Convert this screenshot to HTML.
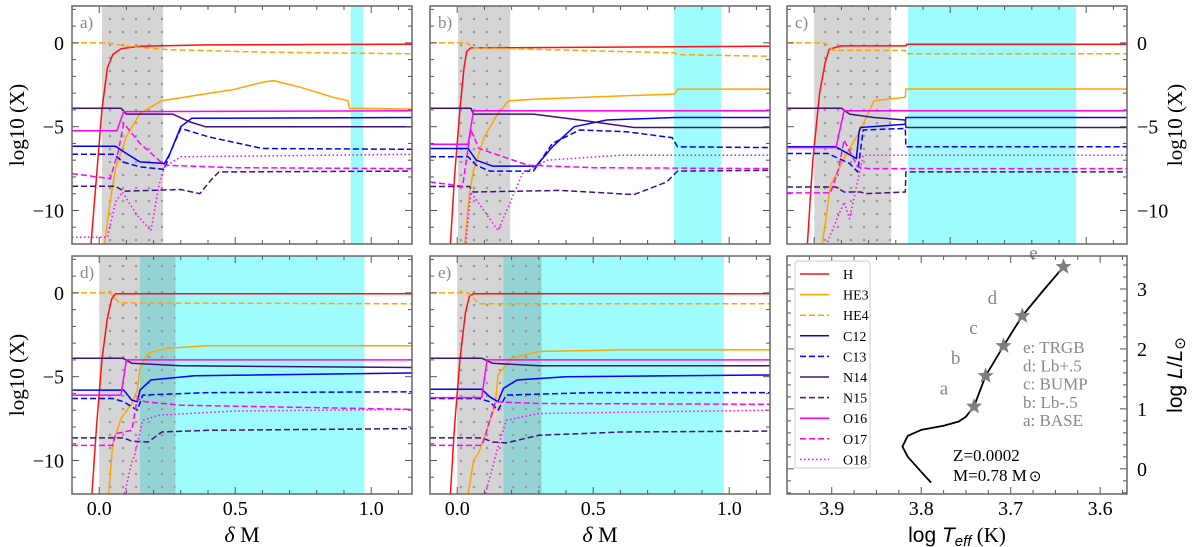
<!DOCTYPE html>
<html><head><meta charset="utf-8"><style>
body{margin:0;background:#fff;}
svg{display:block;font-family:"Liberation Serif",serif;}
</style></head><body>
<svg id="fig" width="1200" height="547" viewBox="0 0 1200 547" xmlns="http://www.w3.org/2000/svg">
<defs>
<pattern id="dots" width="13" height="13" patternUnits="userSpaceOnUse"><circle cx="6" cy="6" r="1.3" fill="#9a9a9a"/></pattern>
</defs>
</svg>
<script>
// ---------- shaded zones (delta M) ----------
const a_gray=[0.01,0.235], a_cyan=[0.925,0.97];
const b_gray=[0.003,0.195], b_cyan=[0.797,0.97];
const c_gray=[0.0,0.283], c_cyan=[0.345,0.963];
const d_gray=[0.0,0.28], d_cyan=[0.15,0.975];
const e_gray=[0.0,0.31], e_cyan=[0.17,0.98];
// ---------- panel a ----------
const a_H=[[-0.03,-12],[-0.01,-8],[0.01,-4],[0.03,-1.5],[0.05,-0.7],[0.08,-0.35],[0.15,-0.2],[0.4,-0.12],[1.15,-0.08]];
const a_HE3=[[0.02,-12],[0.04,-9.5],[0.06,-7.5],[0.1,-5.6],[0.15,-4.2],[0.23,-3.45],[0.37,-3.1],[0.49,-2.8],[0.6,-2.35],[0.64,-2.25],[0.74,-2.65],[0.86,-3.25],[0.915,-3.45],[0.92,-3.9],[1.15,-3.95]];
const a_HE4=[[-0.1,0],[0.03,0],[0.1,-0.2],[0.25,-0.4],[0.6,-0.55],[1.15,-0.65]];
const a_C12=[[-0.1,-6.17],[0.06,-6.17],[0.1,-6.6],[0.15,-7.1],[0.24,-7.2],[0.26,-6.6],[0.3,-5.0],[0.34,-4.5],[1.15,-4.45]];
const a_C13=[[-0.1,-6.65],[0.055,-6.65],[0.086,-7.1],[0.15,-7.4],[0.24,-7.55],[0.26,-6.6],[0.3,-5.1],[0.4,-5.6],[0.6,-6.3],[1.15,-6.35]];
const a_N14=[[-0.1,-3.9],[0.08,-3.9],[0.1,-4.25],[0.27,-4.25],[0.33,-4.7],[0.39,-5.0],[1.15,-5.0]];
const a_N15=[[-0.1,-8.55],[0.06,-8.55],[0.09,-8.85],[0.3,-8.75],[0.37,-9.0],[0.41,-8.2],[0.44,-7.7],[1.15,-7.65]];
const a_O16=[[-0.1,-5.24],[0.065,-5.24],[0.09,-4.1],[1.15,-4.05]];
const a_O17=[[-0.1,-7.8],[0.04,-8.1],[0.07,-6.5],[0.09,-4.8],[0.15,-6.0],[0.24,-7.3],[0.5,-7.45],[1.15,-7.5]];
const a_O18=[[-0.1,-11.6],[0.03,-11.6],[0.06,-9.5],[0.085,-8.9],[0.14,-10.3],[0.19,-11.2],[0.22,-8.5],[0.24,-7.4],[0.3,-6.8],[1.15,-6.65]];
// ---------- panel b ----------
const b_H=[[-0.025,-12],[-0.01,-8],[0.01,-4],[0.025,-1.5],[0.035,-0.5],[0.05,-0.3],[1.15,-0.2]];
const b_HE3=[[0.028,-12],[0.045,-9],[0.06,-7.6],[0.1,-5.6],[0.15,-4.2],[0.19,-3.45],[0.3,-3.35],[0.8,-3.05],[0.81,-2.76],[1.15,-2.76]];
const b_HE4=[[-0.1,0],[0.035,0],[0.06,-0.3],[0.2,-0.35],[0.8,-0.6],[0.81,-0.7],[1.15,-0.8]];
const b_C12=[[-0.1,-6.3],[0.04,-6.3],[0.07,-7.0],[0.13,-7.35],[0.29,-7.35],[0.35,-6.2],[0.43,-5.0],[0.55,-4.6],[0.8,-4.45],[1.15,-4.45]];
const b_C13=[[-0.1,-6.8],[0.04,-6.8],[0.07,-7.3],[0.12,-7.65],[0.28,-7.65],[0.35,-6.0],[0.45,-5.2],[0.62,-5.3],[0.79,-5.65],[0.81,-6.2],[1.15,-6.25]];
const b_N14=[[-0.1,-3.9],[0.05,-3.9],[0.06,-4.25],[0.28,-4.25],[0.45,-4.6],[0.65,-5.05],[1.15,-5.05]];
const b_N15=[[-0.1,-8.57],[0.045,-8.57],[0.06,-8.9],[0.38,-8.8],[0.65,-9.05],[0.77,-8.3],[0.81,-7.65],[1.15,-7.6]];
const b_O16=[[-0.1,-6.05],[0.04,-6.05],[0.06,-4.05],[1.15,-4.05]];
const b_O17=[[-0.1,-8.3],[0.02,-8.55],[0.05,-5.2],[0.08,-6.3],[0.26,-7.3],[0.5,-7.45],[1.15,-7.5]];
const b_O18=[[-0.1,-12.2],[0.03,-12.2],[0.05,-8.9],[0.15,-11.2],[0.24,-7.8],[0.33,-7.0],[0.6,-6.7],[1.15,-6.7]];
// ---------- panel c ----------
const c_H=[[-0.025,-12],[-0.005,-7],[0.02,-3],[0.04,-1.2],[0.055,-0.38],[0.1,-0.18],[0.337,-0.18],[0.34,-0.08],[1.15,-0.08]];
const c_HE3=[[0.03,-12],[0.06,-8.5],[0.12,-6.6],[0.17,-5.2],[0.22,-3.45],[0.335,-3.25],[0.337,-2.75],[1.15,-2.75]];
const c_HE4=[[-0.1,0],[0.04,0],[0.07,-0.45],[0.335,-0.45],[0.337,-0.65],[1.15,-0.65]];
const c_C12=[[-0.1,-6.2],[0.08,-6.2],[0.155,-6.9],[0.165,-5.3],[0.17,-5.05],[0.335,-4.85],[0.337,-4.45],[1.15,-4.45]];
const c_C13=[[-0.1,-6.6],[0.05,-6.6],[0.13,-7.2],[0.16,-7.7],[0.18,-5.2],[0.335,-5.1],[0.337,-6.2],[1.15,-6.2]];
const c_N14=[[-0.1,-3.9],[0.1,-3.9],[0.13,-4.25],[0.22,-4.45],[0.335,-4.6],[0.337,-5.05],[1.15,-5.05]];
const c_N15=[[-0.1,-8.6],[0.08,-8.6],[0.11,-8.9],[0.17,-8.9],[0.19,-9.0],[0.335,-8.9],[0.337,-7.7],[1.15,-7.7]];
const c_O16=[[-0.1,-6.25],[0.08,-6.25],[0.11,-4.05],[1.15,-4.05]];
const c_O17=[[-0.1,-8.95],[0.06,-8.95],[0.09,-7.5],[0.11,-5.8],[0.16,-7.4],[0.2,-7.5],[1.15,-7.5]];
const c_O18=[[-0.1,-12.3],[0.04,-12.2],[0.11,-9.5],[0.13,-10.5],[0.18,-6.7],[1.15,-6.7]];
// ---------- panel d ----------
const d_H=[[-0.027,-12],[-0.01,-8],[0.01,-4],[0.03,-1.5],[0.046,-0.36],[0.06,-0.05],[1.15,-0.05]];
const d_HE3=[[0.035,-12],[0.05,-9],[0.08,-7.5],[0.12,-6.6],[0.14,-5.8],[0.15,-4.5],[0.18,-3.6],[0.25,-3.3],[0.4,-3.15],[1.15,-3.15]];
const d_HE4=[[-0.1,0],[0.04,0],[0.075,-0.6],[1.15,-0.65]];
const d_C12=[[-0.1,-5.8],[0.09,-5.8],[0.12,-6.4],[0.14,-6.5],[0.15,-5.8],[0.19,-5.2],[0.35,-4.95],[1.15,-4.78]];
const d_C13=[[-0.1,-6.3],[0.05,-6.3],[0.09,-6.5],[0.14,-7.0],[0.16,-6.1],[0.4,-5.95],[1.15,-5.9]];
const d_N14=[[-0.1,-3.9],[0.087,-3.9],[0.12,-4.2],[0.3,-4.35],[1.15,-4.45]];
const d_N15=[[-0.1,-8.65],[0.09,-8.65],[0.12,-8.85],[0.18,-8.9],[0.23,-8.3],[0.4,-8.2],[1.15,-8.1]];
const d_O16=[[-0.1,-6.1],[0.08,-6.1],[0.1,-4.0],[1.15,-4.0]];
const d_O17=[[-0.1,-9.1],[0.05,-9.1],[0.06,-8.4],[0.12,-8.2],[0.14,-6.3],[0.17,-6.5],[0.3,-6.7],[1.15,-6.95]];
const d_O18=[[0.09,-12.2],[0.12,-10.1],[0.13,-9.7],[0.16,-7.6],[0.22,-7.3],[0.5,-7.05],[1.15,-6.95]];
// ---------- panel e ----------
const e_H=[[-0.025,-12],[-0.01,-8],[0.01,-4],[0.03,-1.2],[0.045,-0.2],[0.06,-0.05],[1.15,-0.05]];
const e_HE3=[[0.04,-12],[0.06,-10],[0.08,-9.5],[0.14,-6.7],[0.15,-4.9],[0.2,-3.9],[0.3,-3.5],[0.6,-3.4],[1.15,-3.4]];
const e_HE4=[[-0.1,0],[0.04,0],[0.08,-0.65],[1.15,-0.65]];
const e_C12=[[-0.1,-5.75],[0.09,-5.75],[0.12,-6.2],[0.15,-6.5],[0.17,-5.7],[0.22,-5.2],[0.4,-5.0],[1.15,-4.9]];
const e_C13=[[-0.1,-6.3],[0.08,-6.3],[0.12,-6.5],[0.15,-7.0],[0.18,-6.1],[0.5,-5.95],[1.15,-5.95]];
const e_N14=[[-0.1,-3.9],[0.09,-3.9],[0.13,-4.2],[0.3,-4.35],[1.15,-4.35]];
const e_N15=[[-0.1,-8.65],[0.09,-8.65],[0.13,-8.9],[0.18,-8.95],[0.3,-8.5],[0.6,-8.3],[1.15,-8.25]];
const e_O16=[[-0.1,-6.25],[0.09,-6.25],[0.11,-4.0],[1.15,-4.0]];
const e_O17=[[-0.1,-9.1],[0.09,-9.1],[0.1,-8.7],[0.14,-6.5],[0.3,-6.6],[1.15,-6.65]];
const e_O18=[[0.1,-12.2],[0.13,-10.4],[0.15,-9.2],[0.18,-7.6],[0.3,-7.2],[1.15,-7.0]];
// ---------- HR diagram ----------
const hrTrack=[[3.789,-0.23],[3.80,-0.05],[3.815,0.2],[3.821,0.37],[3.815,0.55],[3.80,0.65],[3.775,0.72],[3.758,0.79],[3.75,0.87],[3.741,1.04],[3.728,1.55],[3.708,2.05],[3.687,2.55],[3.665,2.95],[3.641,3.37]];
const hrStarT=[3.741,3.728,3.708,3.687,3.641];
const hrStarL=[1.04,1.55,2.05,2.55,3.37];
const hrStarNames=["a","b","c","d","e"];
const hrNotes=["e: TRGB","d: Lb+.5","c: BUMP","b: Lb-.5","a: BASE"];
const xTickLabels=["0.0","0.5","1.0"];
const yTickLabels=["0","−5","−10"];
const hrXTicks=["3.9","3.8","3.7","3.6"];
const hrYTicks=["0","1","2","3"];

const species=["H","HE3","HE4","C12","C13","N14","N15","O16","O17","O18"];
const style={H:["#ff1010",""],HE3:["#ffa500",""],HE4:["#ffa500","6,3"],C12:["#0000ff",""],C13:["#0000ff","6,3"],N14:["#40127f",""],N15:["#40127f","6,3"],O16:["#ff00ff",""],O17:["#ff00ff","6,3"],O18:["#ff00ff","1.5,2.5"]};
const DATA={a:{H:a_H,HE3:a_HE3,HE4:a_HE4,C12:a_C12,C13:a_C13,N14:a_N14,N15:a_N15,O16:a_O16,O17:a_O17,O18:a_O18,gray:a_gray,cyan:a_cyan},
b:{H:b_H,HE3:b_HE3,HE4:b_HE4,C12:b_C12,C13:b_C13,N14:b_N14,N15:b_N15,O16:b_O16,O17:b_O17,O18:b_O18,gray:b_gray,cyan:b_cyan},
c:{H:c_H,HE3:c_HE3,HE4:c_HE4,C12:c_C12,C13:c_C13,N14:c_N14,N15:c_N15,O16:c_O16,O17:c_O17,O18:c_O18,gray:c_gray,cyan:c_cyan},
d:{H:d_H,HE3:d_HE3,HE4:d_HE4,C12:d_C12,C13:d_C13,N14:d_N14,N15:d_N15,O16:d_O16,O17:d_O17,O18:d_O18,gray:d_gray,cyan:d_cyan},
e:{H:e_H,HE3:e_HE3,HE4:e_HE4,C12:e_C12,C13:e_C13,N14:e_N14,N15:e_N15,O16:e_O16,O17:e_O17,O18:e_O18,gray:e_gray,cyan:e_cyan}};

const svg=document.getElementById('fig');
const NS="http://www.w3.org/2000/svg";
function mk(tag,attrs,parent){const el=document.createElementNS(NS,tag);for(const k in attrs)el.setAttribute(k,attrs[k]);(parent||svg).appendChild(el);return el;}
function txt(s,x,y,size,anchor,fill,parent){const t=mk('text',{x:x,y:y,'font-size':size,'text-anchor':anchor||'middle',fill:fill||'#000'},parent);t.textContent=s;return t;}

const W=340,H=238;
const panels=[{id:'a',x0:72,y0:6,lab:'left'},{id:'b',x0:430,y0:6},{id:'c',x0:787,y0:6,lab:'right'},{id:'d',x0:72,y0:256,lab:'left',xl:true},{id:'e',x0:430,y0:256,xl:true}];
const XMIN=-0.1,XMAX=1.15,YMIN=-12.0,YMAX=2.2;

panels.forEach(p=>{
  const sx=v=>p.x0+(v-XMIN)/(XMAX-XMIN)*W;
  const sy=v=>p.y0+(YMAX-v)/(YMAX-YMIN)*H;
  const g=mk('g',{});
  
  
  const cp=mk('clipPath',{id:'clip'+p.id},svg.querySelector('defs'));
  mk('rect',{x:p.x0,y:p.y0,width:W,height:H},cp);
  const D=DATA[p.id];
  const cy=mk('rect',{x:sx(D.cyan[0]),y:p.y0,width:sx(D.cyan[1])-sx(D.cyan[0]),height:H,fill:'#9ffcfc'},g);
  
  
  const gr=mk('rect',{x:sx(D.gray[0]),y:p.y0,width:sx(D.gray[1])-sx(D.gray[0]),height:H,fill:'rgba(128,128,128,0.33)'},g);
  
  
  mk('rect',{x:sx(D.gray[0]),y:p.y0,width:sx(D.gray[1])-sx(D.gray[0]),height:H,fill:'url(#dots)'},g);
  const lg=mk('g',{'clip-path':'url(#clip'+p.id+')'},g);
  species.forEach(s=>{
    const pts=D[s].map(q=>sx(q[0]).toFixed(1)+','+sy(q[1]).toFixed(1)).join(' ');
    const pl=mk('polyline',{points:pts,fill:'none',stroke:style[s][0],'stroke-width':1.5,'stroke-dasharray':style[s][1],'stroke-linejoin':'round'},lg);
    
    
  });
  const tg=mk('g',{stroke:'#555','stroke-width':1},g);
  for(let i=-1;i<=11;i++){const v=i/10,x=sx(v),maj=(i%5===0);const L=maj?7:4;
    mk('line',{x1:x,y1:p.y0+H,x2:x,y2:p.y0+H-L},tg);mk('line',{x1:x,y1:p.y0,x2:x,y2:p.y0+L},tg);}
  for(let v=-12;v<=2;v++){const y=sy(v),maj=(v%5===0);const L=maj?7:4;
    mk('line',{x1:p.x0,y1:y,x2:p.x0+L,y2:y},tg);mk('line',{x1:p.x0+W,y1:y,x2:p.x0+W-L,y2:y},tg);}
  const fr=mk('rect',{x:p.x0,y:p.y0,width:W,height:H,fill:'none',stroke:'#666','stroke-width':1.5},g);
  
  
  const pl=txt(p.id+')',p.x0+8,p.y0+22,17,'start','#888',g);
  
  
  if(p.lab){
    [0,-5,-10].forEach((v,i)=>{
      const t=p.lab==='left'?txt(yTickLabels[i],p.x0-8,sy(v)+7,20,'end','#000',g):txt(yTickLabels[i],p.x0+W+10,sy(v)+7,20,'start','#000',g);
      
      
    });
    const tx=p.lab==='left'?24:1182,ty=p.y0+H/2;
    const yt=txt('log10 (X)',tx,ty,21,'middle','#000',g);
    yt.setAttribute('transform','rotate(-90 '+tx+' '+ty+')');
    
    
  }
  if(p.xl){
    [0,0.5,1].forEach((v,i)=>{const t=txt(xTickLabels[i],sx(v),p.y0+H+21,20,'middle','#000',g);
      
      });
    const xt=mk('text',{x:p.x0+W/2,y:542,'font-size':22,'text-anchor':'middle'},g);
    xt.innerHTML='<tspan font-style="italic">δ</tspan> M';
    
    
  }
});

// ---------- HR panel ----------
(function(){
  const x0=787,y0=256,TMAX=3.95,TMIN=3.57,LMIN=-0.42,LMAX=3.55;
  const sx=v=>x0+(TMAX-v)/(TMAX-TMIN)*W;
  const sy=v=>y0+(LMAX-v)/(LMAX-LMIN)*H;
  const g=mk('g',{});
  
  
  const tr=mk('polyline',{points:hrTrack.map(q=>sx(q[0]).toFixed(1)+','+sy(q[1]).toFixed(1)).join(' '),fill:'none',stroke:'#000','stroke-width':1.8,'stroke-linejoin':'round'},g);
  
  
  hrStarT.forEach((t,i)=>{
    const cx=sx(t),cy=sy(hrStarL[i]),R=8.5,r=3.6;let pts=[];
    for(let k=0;k<10;k++){const a=-Math.PI/2+k*Math.PI/5,rr=k%2?r:R;pts.push((cx+rr*Math.cos(a)).toFixed(1)+','+(cy+rr*Math.sin(a)).toFixed(1));}
    const st=mk('polygon',{points:pts.join(' '),fill:'#7f7f7f'},g);
    
    
    const lb=txt(hrStarNames[i],cx-30,cy-(i===4?8:12),19,'middle','#888',g);
    
    
  });
  hrNotes.forEach((s,i)=>{const t=txt(s,1023,353+i*18.3,17,'start','#888',g);
    
    });
  const z=txt('Z=0.0002',953,461,17,'start','#000',g);
  
  
  const m=mk('text',{x:953,y:481,'font-size':17},g);m.innerHTML='M=0.78 M<tspan font-size="15" dx="2">⊙</tspan>';
  
  
  const tg=mk('g',{stroke:'#555','stroke-width':1},g);
  for(let k=0;k<=15;k++){const v=3.575+k*0.025;if(v>TMAX)continue;const x=sx(v);const maj=Math.abs(v*10-Math.round(v*10))<1e-6;const L=maj?7:4;
    mk('line',{x1:x,y1:y0+H,x2:x,y2:y0+H-L},tg);mk('line',{x1:x,y1:y0,x2:x,y2:y0+L},tg);}
  for(let k=-2;k<=17;k++){const v=k*0.2;if(v<LMIN||v>LMAX)continue;const y=sy(v);const maj=(k%5===0);const L=maj?7:4;
    mk('line',{x1:x0,y1:y,x2:x0+L,y2:y},tg);mk('line',{x1:x0+W,y1:y,x2:x0+W-L,y2:y},tg);}
  mk('rect',{x:x0,y:y0,width:W,height:H,fill:'none',stroke:'#666','stroke-width':1.5},g);
  [3.9,3.8,3.7,3.6].forEach((v,i)=>{const t=txt(hrXTicks[i],sx(v),y0+H+21,20,'middle','#000',g);
    
    });
  [0,1,2,3].forEach((v,i)=>{const t=txt(hrYTicks[i],x0+W+10,sy(v)+7,20,'start','#000',g);
    
    });
  const xt=mk('text',{x:957,y:542,'font-size':21,'text-anchor':'middle'},g);
  xt.innerHTML='<tspan font-family="Liberation Sans, sans-serif">log </tspan><tspan font-family="Liberation Sans, sans-serif" font-style="italic">T</tspan><tspan font-family="Liberation Sans, sans-serif" font-style="italic" font-size="15" dy="4">eff</tspan><tspan dy="-4"> (K)</tspan>';
  
  
  const yt=mk('text',{x:1182,y:375,'font-size':21,'text-anchor':'middle','font-family':'Liberation Sans, sans-serif'},g);
  yt.innerHTML='log <tspan font-style="italic">L</tspan>/<tspan font-style="italic">L</tspan><tspan font-size="15" dy="3">⊙</tspan>';
  yt.setAttribute('transform','rotate(-90 1182 375)');
  
  
  const lgd=mk('g',{},g);
  
  
  mk('rect',{x:795,y:261,width:75,height:207,rx:3,fill:'#fff',stroke:'#ccc','stroke-width':1},lgd);
  species.forEach((s,i)=>{
    const y=274+i*20.6;
    const en=mk('g',{},lgd);
    
    
    mk('line',{x1:800,y1:y,x2:829,y2:y,stroke:style[s][0],'stroke-width':1.5,'stroke-dasharray':style[s][1]},en);
    txt(s,843,y+5,14,'start','#000',en);
  });
})();
</script>
</body></html>
